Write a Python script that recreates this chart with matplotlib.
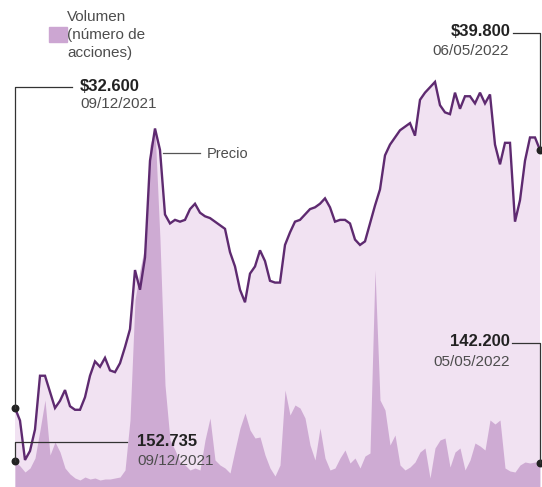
import matplotlib
matplotlib.use("Agg")
import matplotlib.pyplot as plt
from matplotlib.lines import Line2D
from matplotlib.patches import Rectangle

# Precio de la accion (pesos) y volumen (numero de acciones), sesion a sesion
precio = [32600, 32250, 31150, 31400, 32000, 33500, 33500, 33050, 32600, 32800,
          33100, 32650, 32550, 32550, 32900, 33500, 33900, 33750, 34000, 33650,
          33600, 33850, 34300, 34800, 36450, 35900, 36800, 39500, 40400, 39800,
          38000, 37750, 37850, 37800, 37850, 38150, 38300, 38050, 37950, 37900,
          37800, 37700, 37600, 36950, 36550, 35900, 35550, 36350, 36550, 37000,
          36700, 36150, 36100, 36100, 37150, 37500, 37800, 37850, 38000, 38150,
          38200, 38300, 38450, 38200, 37800, 37850, 37850, 37750, 37300, 37150,
          37250, 37750, 38250, 38700, 39650, 39950, 40150, 40350, 40450, 40550,
          40200, 41200, 41400, 41550, 41700, 41050, 40850, 40800, 41400, 40950,
          41300, 41300, 41100, 41400, 41100, 41350, 39950, 39400, 40000, 40000,
          37800, 38400, 39500, 40150, 40150, 39800]

volumen = [152735, 123900, 88500, 112100, 171100, 336300, 513300, 188800, 265500, 206500,
           112100, 76700, 53100, 41300, 59000, 47200, 53100, 41300, 47200, 47200,
           53100, 59000, 100300, 395300, 1103300, 1280300, 1427800, 2017800, 2118100, 1457300,
           601800, 277300, 218300, 147500, 129800, 100300, 112100, 100300, 277300, 407100,
           159300, 129800, 112100, 82600, 218300, 348100, 436600, 336300, 289100, 295000,
           188800, 112100, 64900, 129800, 572300, 424800, 483800, 466100, 407100, 247800,
           159300, 348100, 171100, 100300, 112100, 171100, 218300, 141600, 171100, 112100,
           182900, 200600, 1280300, 513300, 454300, 247800, 306800, 129800, 100300, 118000,
           147500, 206500, 230100, 53100, 230100, 277300, 289100, 118000, 206500, 230100,
           100300, 159300, 259600, 241900, 218300, 395300, 371700, 395300, 112100, 94400,
           88500, 129800, 147500, 141600, 147500, 142200]

dias = list(range(len(precio)))

W, H = 542, 487
fig = plt.figure(figsize=(W / 100, H / 100), dpi=100)
plt.rcParams['font.family'] = ['Liberation Sans', 'DejaVu Sans']

rect = [15 / W, 0, 525 / W, 1]
ax = fig.add_axes(rect)
axv = fig.add_axes(rect, sharex=ax)
axl = fig.add_axes(rect, sharex=ax)
for a in (axv, axl):
    a.patch.set_alpha(0)

c_fill = '#f1e2f2'
c_vol = '#c094c7'
c_line = '#5e2a70'

ax.fill_between(dias, precio, 0, color=c_fill, lw=0)
axv.fill_between(dias, volumen, 0, color=c_vol, alpha=0.7, lw=0)
axl.plot(dias, precio, color=c_line, lw=1.7, solid_joinstyle='miter')

ax.set_xlim(0, len(dias) - 1)
ax.set_ylim(30395, 43986)
axl.set_ylim(30395, 43986)
axv.set_ylim(0, 2873300)
for a in (ax, axv, axl):
    a.axis('off')

# puntos marcados
axl.scatter([dias[0], dias[-1]], [precio[0], precio[-1]], s=22, color='#222222',
            zorder=5, clip_on=False)
axv.scatter([dias[0], dias[-1]], [volumen[0], volumen[-1]], s=22, color='#222222',
            zorder=5, clip_on=False)


def fpx(x, y):
    return (x / W, 1 - y / H)


def dfig(a, x, y):
    return fig.transFigure.inverted().transform(a.transData.transform((x, y)))


def leader(a, xd, yd, y_txt, x_end):
    p = dfig(a, xd, yd)
    yt = 1 - y_txt / H
    fig.add_artist(Line2D([x_end / W, p[0], p[0]], [yt, yt, p[1]],
                          color='#333333', lw=0.9, transform=fig.transFigure))


leader(axl, dias[0], precio[0], 87, 72)
leader(axv, dias[0], volumen[0], 442, 127)
leader(axl, dias[-1], precio[-1], 33, 513)
leader(axv, dias[-1], volumen[-1], 343, 512)

dark = '#222222'
grey = '#4d4d4d'

fig.text(*fpx(80, 86), '$32.600', fontsize=12, fontweight='bold', color=dark, va='center')
fig.text(*fpx(80, 104), '09/12/2021', fontsize=11, color=grey, va='center')

fig.text(*fpx(511, 31), '$39.800', fontsize=12, fontweight='bold', color=dark,
         va='center', ha='right')
fig.text(*fpx(509, 51), '06/05/2022', fontsize=11, color=grey, va='center', ha='right')

fig.text(*fpx(137, 441), '152.735', fontsize=12, fontweight='bold', color=dark, va='center')
fig.text(*fpx(137, 461), '09/12/2021', fontsize=11, color=grey, va='center')

fig.text(*fpx(510, 342), '142.200', fontsize=12, fontweight='bold', color=dark,
         va='center', ha='right')
fig.text(*fpx(510, 362), '05/05/2022', fontsize=11, color=grey, va='center', ha='right')

# etiqueta de la linea
fig.add_artist(Line2D([163 / W, 200 / W], [1 - 153 / H, 1 - 153 / H],
                      color='#555555', lw=0.9, transform=fig.transFigure))
fig.text(*fpx(207, 154), 'Precio', fontsize=10.5, color=grey, va='center')

# leyenda del volumen
fig.add_artist(Rectangle(fpx(49, 42), 18 / W, 15 / H, color='#cca6d2',
                         transform=fig.transFigure))
fig.text(*fpx(67, 10), 'Volumen\n(número de\nacciones)', fontsize=11, color=grey,
         va='top', linespacing=1.38)

fig.savefig('out.png', dpi=100)
